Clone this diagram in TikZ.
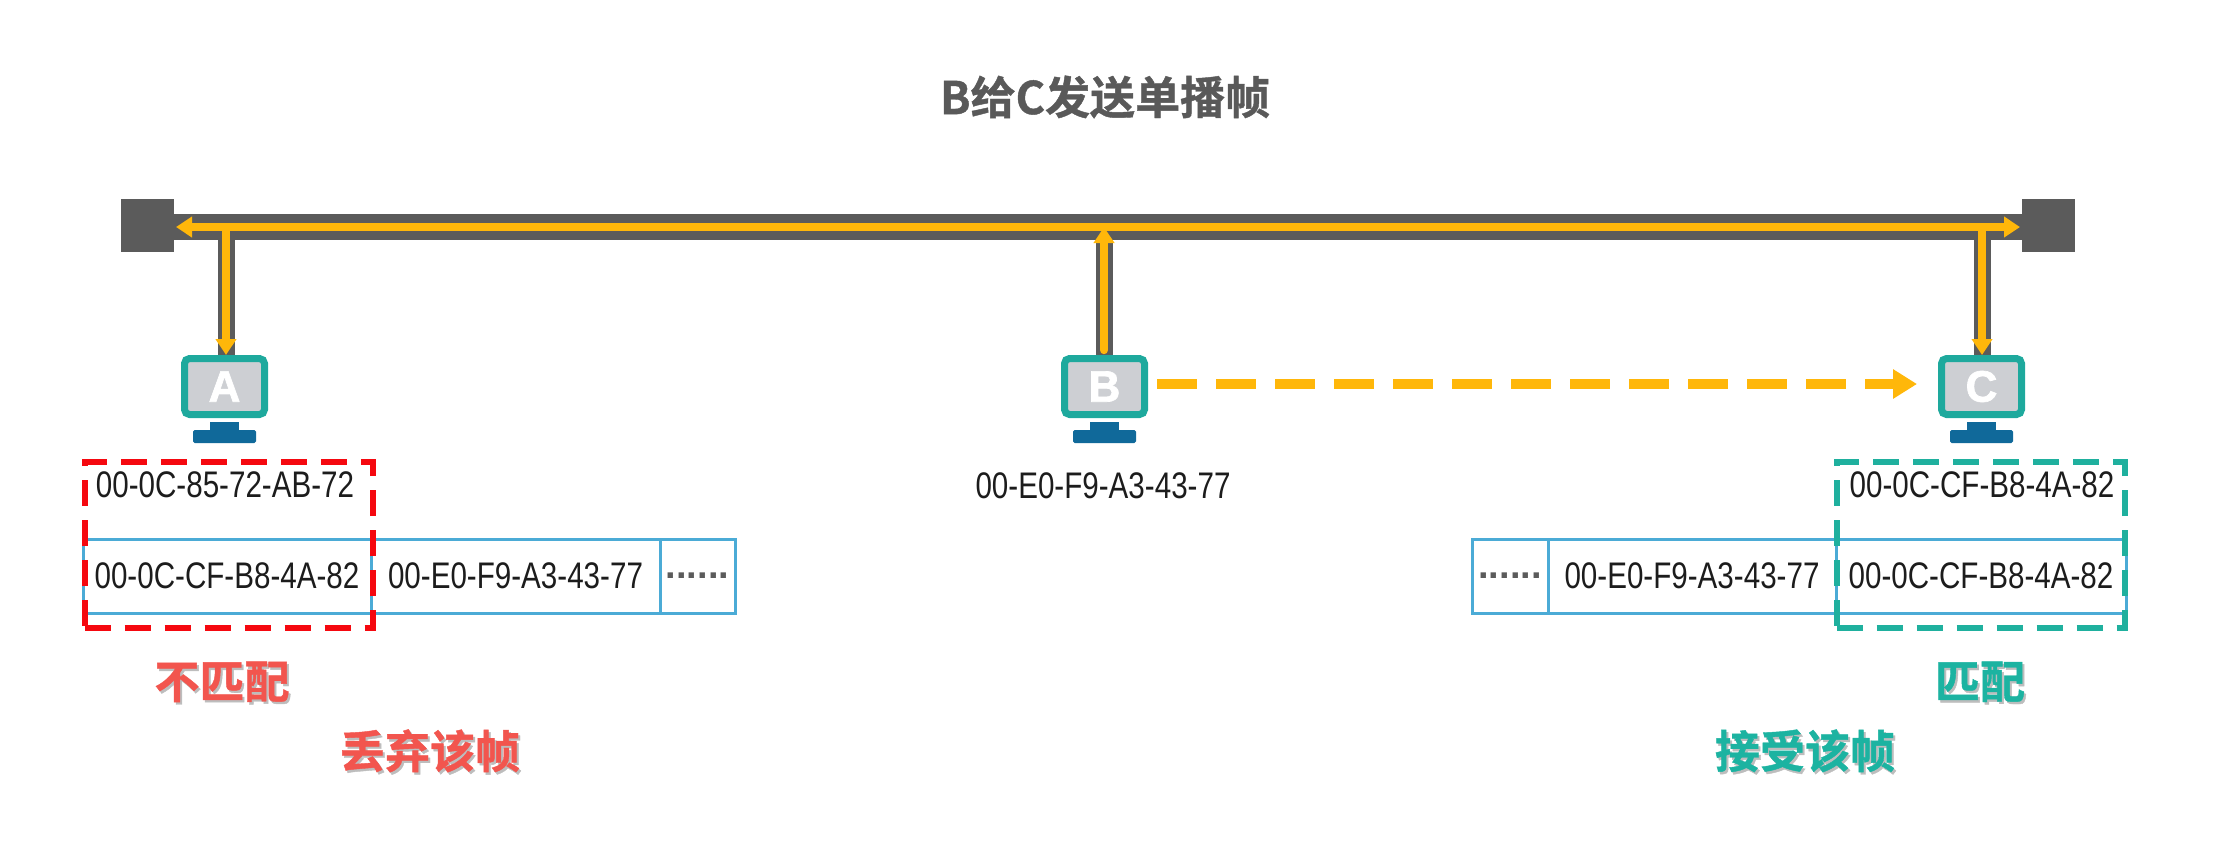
\documentclass[tikz,border=0pt]{standalone}
\usepackage{fontspec}
\usetikzlibrary{arrows.meta}
\setmainfont{Liberation Sans}
\newfontfamily\cjkbold[BoldFont={* Bold},FakeBold=0.9]{Noto Sans CJK SC}
\newfontfamily\addrfont[FakeStretch=0.8]{Liberation Sans}
\newfontfamily\letterfont[FakeBold=1.6]{Liberation Sans Bold}
\definecolor{cablegray}{HTML}{5B5B5B}
\definecolor{signal}{HTML}{FFB70A}
\definecolor{monteal}{HTML}{1EA99D}
\definecolor{monscreen}{HTML}{CDCFD3}
\definecolor{monstand}{HTML}{10699A}
\definecolor{cellblue}{HTML}{4BABD6}
\definecolor{boxred}{HTML}{F5080F}
\definecolor{boxteal}{HTML}{1FB09E}
\definecolor{notered}{HTML}{F2554E}
\definecolor{noteteal}{HTML}{1CB3A1}
\definecolor{titlegray}{HTML}{595959}
\definecolor{addrblack}{HTML}{1C1C1C}
\definecolor{softshadow}{HTML}{BDBDBD}
\tikzset{
  terminator/.style={fill=cablegray,minimum size=26.5pt,inner sep=0pt,outer sep=0pt},
  bus/.style={draw=cablegray,line width=13pt},
  drop/.style={draw=cablegray,line width=8.5pt},
  sig/.style={draw=signal,line width=4.2pt},
  sighead/.style={-{Triangle[length=8pt,width=10pt]}},
  monitor/.style={draw=monteal,fill=monscreen,line width=3.5pt,rounded corners=2.5pt,
    minimum width=40pt,minimum height=28pt,inner sep=0pt,text=white,
    font=\letterfont\fontsize{22pt}{22pt}\selectfont},
  addr/.style={text=addrblack,inner sep=0pt,font=\addrfont\fontsize{18.5pt}{20pt}\selectfont},
  cell/.style={draw=cellblue,line width=1.5pt,minimum height=37pt,inner sep=0pt,outer sep=0pt,
    text=addrblack,font=\addrfont\fontsize{18.5pt}{20pt}\selectfont},
  dotcell/.style={cell,text=cablegray,font=\bfseries\fontsize{19pt}{20pt}\selectfont},
  matchbox/.style={draw=#1,line width=3pt,dash pattern=on 13pt off 7pt,minimum width=144pt,
    minimum height=83pt,inner sep=0pt,outer sep=0pt},
  note/.style={inner sep=0pt,font=\cjkbold\bfseries\fontsize{22.5pt}{24pt}\selectfont},
}
% A note whose lettering carries a soft drop shadow
\newcommand{\castnote}[2]{\rlap{\kern1pt\raisebox{-1.2pt}{\textcolor{softshadow}{#2}}}\textcolor{#1}{#2}}
% One station: screen node, neck and foot
\newcommand{\station}[3]{%
  \node[monitor] (mon#1) at (#2,386.5) {#3};
  \fill[monstand] (#2-14.5,422) rectangle (#2+14.5,431);
  \fill[monstand,rounded corners=0.8pt] (#2-31.5,430) rectangle (#2+31.5,443);
}
\begin{document}
\begin{tikzpicture}[x=0.5pt,y=-0.5pt]
\useasboundingbox (0,0) rectangle (2236,848);

\node[inner sep=0pt,text=titlegray,font=\cjkbold\bfseries\fontsize{22.5pt}{24pt}\selectfont] (title) at (1105,97) {B给C发送单播帧};

% shared medium with its two terminators
\node[terminator] (termL) at (147.5,225) {};
\node[terminator] (termR) at (2048.5,225) {};
\coordinate (tapA) at (226,227);
\coordinate (tapB) at (1104,227);
\coordinate (tapC) at (1982,227);
\coordinate (busL) at (termL.east |- tapA);
\coordinate (busR) at (termR.west |- tapA);
\draw[bus] (busL) -- (busR);

% stations
\draw[drop] (tapA) -- (226,360);
\draw[drop] (tapB) -- (1104,360);
\draw[drop] (tapC) -- (1982,360);
\station{A}{224.5}{A}
\station{B}{1104.5}{B}
\station{C}{1981.5}{C}

% frame propagation along the cable
\draw[sig,{Triangle[length=8pt,width=10pt]}-{Triangle[length=8pt,width=10pt]},shorten <=1pt,shorten >=1pt] (busL) -- (busR);
\draw[sig,sighead] (tapA) -- (tapA |- monA.north);
\draw[sig,sighead] (tapC) -- (tapC |- monC.north);
\draw[sig,sighead,line cap=round,shorten <=2.5pt] (tapB |- monB.north) -- (tapB);
\draw[draw=signal,line width=5pt,dash pattern=on 20pt off 9.5pt,-{Triangle[length=12pt,width=14pt]}]
  ([xshift=4.5pt,yshift=1.25pt]monB.east) -- ([xshift=-10.5pt,yshift=1.25pt]monC.west);

% station addresses
\node[addr] (macA) at (225,485) {00-0C-85-72-AB-72};
\node[addr] (macB) at (1103,486) {00-E0-F9-A3-43-77};
\node[addr] (macC) at (1982,485) {00-0C-CF-B8-4A-82};

% frame seen at A
\node[cell,minimum width=144pt] (dstA) at (227,576) {00-0C-CF-B8-4A-82};
\node[cell,minimum width=144.5pt] (srcA) at (515.5,576) {00-E0-F9-A3-43-77};
\node[dotcell,minimum width=37.5pt] (restA) at (697.5,576) {......};

% frame seen at C
\node[dotcell,minimum width=38pt] (restC) at (1510,576) {......};
\node[cell,minimum width=144pt] (srcC) at (1692,576) {00-E0-F9-A3-43-77};
\node[cell,minimum width=145pt] (dstC) at (1981,576) {00-0C-CF-B8-4A-82};

% compared fields
\node[matchbox=boxred] (cmpA) at (228.5,545) {};
\node[matchbox=boxteal] (cmpC) at (1980.5,545) {};

% verdicts
\node[note] (verdictA) at (222,683) {\castnote{notered}{不匹配}};
\node[note] (actionA) at (430,752) {\castnote{notered}{丢弃该帧}};
\node[note] (verdictC) at (1980,683) {\castnote{noteteal}{匹配}};
\node[note] (actionC) at (1805,752) {\castnote{noteteal}{接受该帧}};
\end{tikzpicture}
\end{document}
